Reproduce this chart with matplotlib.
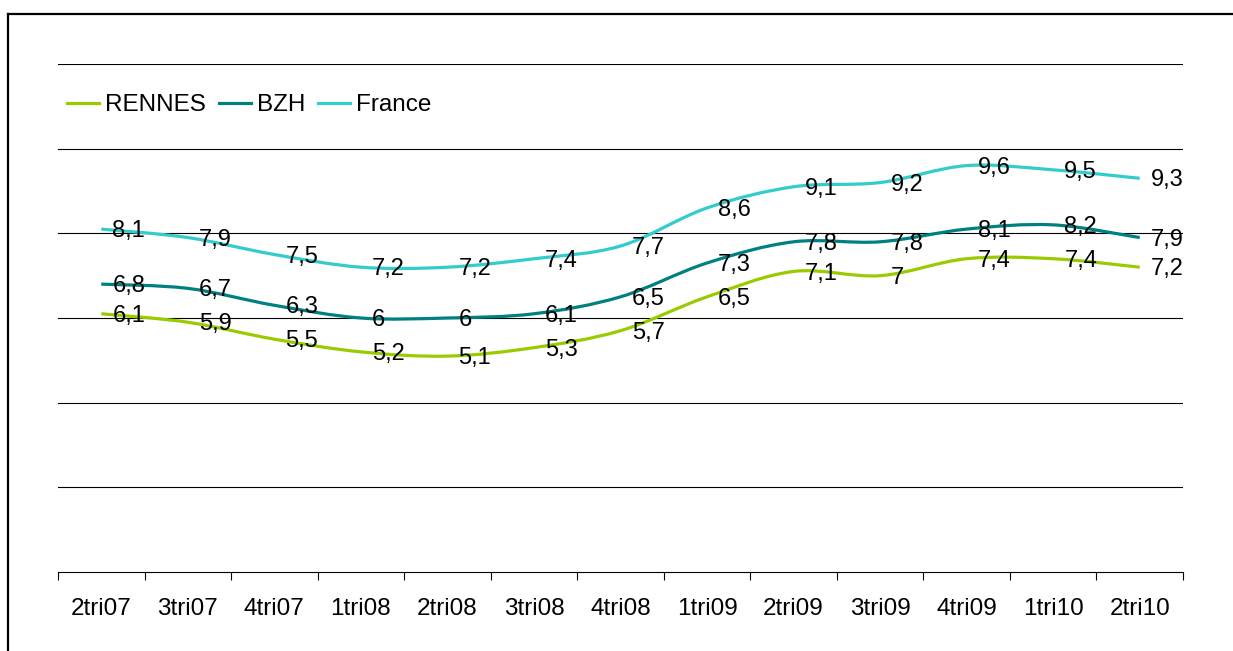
import numpy as np
import matplotlib
matplotlib.use('Agg')
import matplotlib.pyplot as plt
from matplotlib.path import Path
from matplotlib.patches import PathPatch
from matplotlib.lines import Line2D

# --- Données ---
quarters = ["2tri07", "3tri07", "4tri07", "1tri08", "2tri08", "3tri08", "4tri08",
            "1tri09", "2tri09", "3tri09", "4tri09", "1tri10", "2tri10"]
rennes = [6.1, 5.9, 5.5, 5.2, 5.1, 5.3, 5.7, 6.5, 7.1, 7.0, 7.4, 7.4, 7.2]
bzh = [6.8, 6.7, 6.3, 6.0, 6.0, 6.1, 6.5, 7.3, 7.8, 7.8, 8.1, 8.2, 7.9]
france = [8.1, 7.9, 7.5, 7.2, 7.2, 7.4, 7.7, 8.6, 9.1, 9.2, 9.6, 9.5, 9.3]

series_names = ["RENNES", "BZH", "France"]
series_colors = ["#99CC00", "#008080", "#33CCCC"]

plt.rcParams['font.family'] = ['Liberation Sans', 'DejaVu Sans']


def smooth_path(xs, ys):
    """Courbe lissée façon Excel (Bezier passant par chaque point)."""
    pts = np.column_stack([xs, ys]).astype(float)
    verts = [pts[0]]
    codes = [Path.MOVETO]
    n = len(pts)
    for i in range(n - 1):
        p0 = pts[i - 1] if i > 0 else pts[i]
        p1 = pts[i]
        p2 = pts[i + 1]
        p3 = pts[i + 2] if i + 2 < n else pts[i + 1]
        c1 = p1 + (p2 - p0) / 6.0
        c2 = p2 - (p3 - p1) / 6.0
        verts += [c1, c2, p2]
        codes += [Path.CURVE4] * 3
    return Path(verts, codes)


fig = plt.figure(figsize=(12.33, 6.51), dpi=100)
ax = fig.add_axes([58 / 1233, 1 - 572 / 651, 1125 / 1233, 508 / 651])

x = np.arange(len(quarters))
handles = []
for vals, name, col in zip([rennes, bzh, france], series_names, series_colors):
    patch = PathPatch(smooth_path(x, vals), facecolor='none', edgecolor=col,
                      lw=2.3, capstyle='butt', zorder=3)
    ax.add_patch(patch)
    handles.append(Line2D([], [], color=col, lw=2.3, label=name))
    for xi, v in zip(x, vals):
        ax.annotate(f"{v:g}".replace('.', ','), (xi, v), xytext=(8, -1.5),
                    textcoords='offset points', ha='left', va='center',
                    fontsize=17, zorder=4)

ax.set_xlim(-0.5, len(quarters) - 0.5)
ax.set_ylim(0, 12)
ax.set_yticks(np.arange(2, 13, 2))
ax.yaxis.grid(True, color='black', lw=0.8)
ax.tick_params(axis='y', left=False, labelleft=False)
ax.set_xticks(x)
ax.set_xticklabels(quarters, fontsize=17.5)
ax.set_xticks(np.arange(-0.5, len(quarters), 1), minor=True)
ax.tick_params(axis='x', which='major', length=0, pad=19)
ax.tick_params(axis='x', which='minor', length=6, width=0.8, direction='out')
for s in ['top', 'left', 'right']:
    ax.spines[s].set_visible(False)
ax.spines['bottom'].set_linewidth(0.8)
ax.set_axisbelow(True)

ax.legend(handles=handles, loc='center left', bbox_to_anchor=(0.008, 0.919),
          ncol=3, frameon=False, fontsize=17.5, handlelength=1.3,
          handletextpad=0.25, columnspacing=0.55, borderaxespad=0, borderpad=0)

# cadre extérieur
fig.add_artist(Line2D([8 / 1233, 8 / 1233], [0, 1 - 14 / 651], color='black', lw=1.6))
fig.add_artist(Line2D([8 / 1233, 1], [1 - 14 / 651, 1 - 14 / 651], color='black', lw=1.6))

fig.savefig('out.png', dpi=100)
